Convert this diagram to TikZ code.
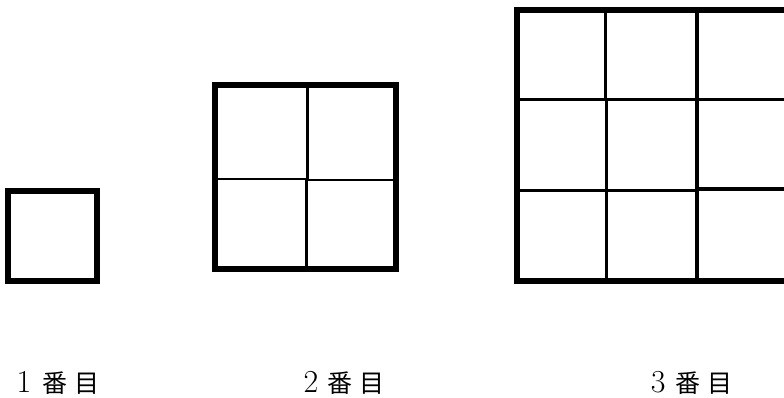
\documentclass[tikz,border=0pt]{standalone}
\usepackage{fontspec}
\newfontfamily\jp{Noto Sans CJK JP}
\tikzset{
  frame/.style={line width=6pt, line cap=rect, line join=miter},
  gridline/.style={line width=3pt},
  lbl/.style={anchor=base west, inner sep=0pt, font=\fontsize{32}{32}\selectfont}
}
\newcommand{\lab}[2]{#1\hspace{#2}{\jp\fontsize{25}{25}\selectfont 番\hspace{7pt}目}}
\begin{document}
\begin{tikzpicture}[x=1pt,y=-1pt]
\useasboundingbox (0,0) rectangle (784,398);
% first figure
\draw[frame] (8,191) rectangle (96.5,280.5);
% second figure
\draw[gridline] (307,85.5) -- (307,179.5);
\draw[gridline] (306,179.5) -- (306,269);
\draw[gridline,line width=2.6pt] (214.5,179) -- (306,179);
\draw[gridline,line width=2.6pt] (306,180) -- (396,180);
\draw[frame] (214.5,85.5) rectangle (396,269);
% third figure
\draw[gridline] (605.5,10) -- (605.5,100);
\draw[gridline,line width=3.3pt] (606.5,100) -- (606.5,280.5);
\draw[gridline,line width=3.5pt] (697,10) -- (697,280.5);
\draw[gridline] (516.5,100) -- (790,100);
\draw[gridline,line width=3.5pt] (516.5,190.5) -- (697,190.5);
\draw[gridline,line width=3.5pt] (697,189) -- (790,189);
\draw[frame] (790,10) -- (516.5,10) -- (516.5,280.5) -- (790,280.5);
% labels
\node[lbl] (l1) at (16.5,392.5) {\lab{1}{11.5pt}};
\node[lbl] (l2) at (303.5,392.5) {\lab{2}{9.5pt}};
\node[lbl] (l3) at (650.7,392.5) {\lab{3}{10.3pt}};
\end{tikzpicture}
\end{document}
